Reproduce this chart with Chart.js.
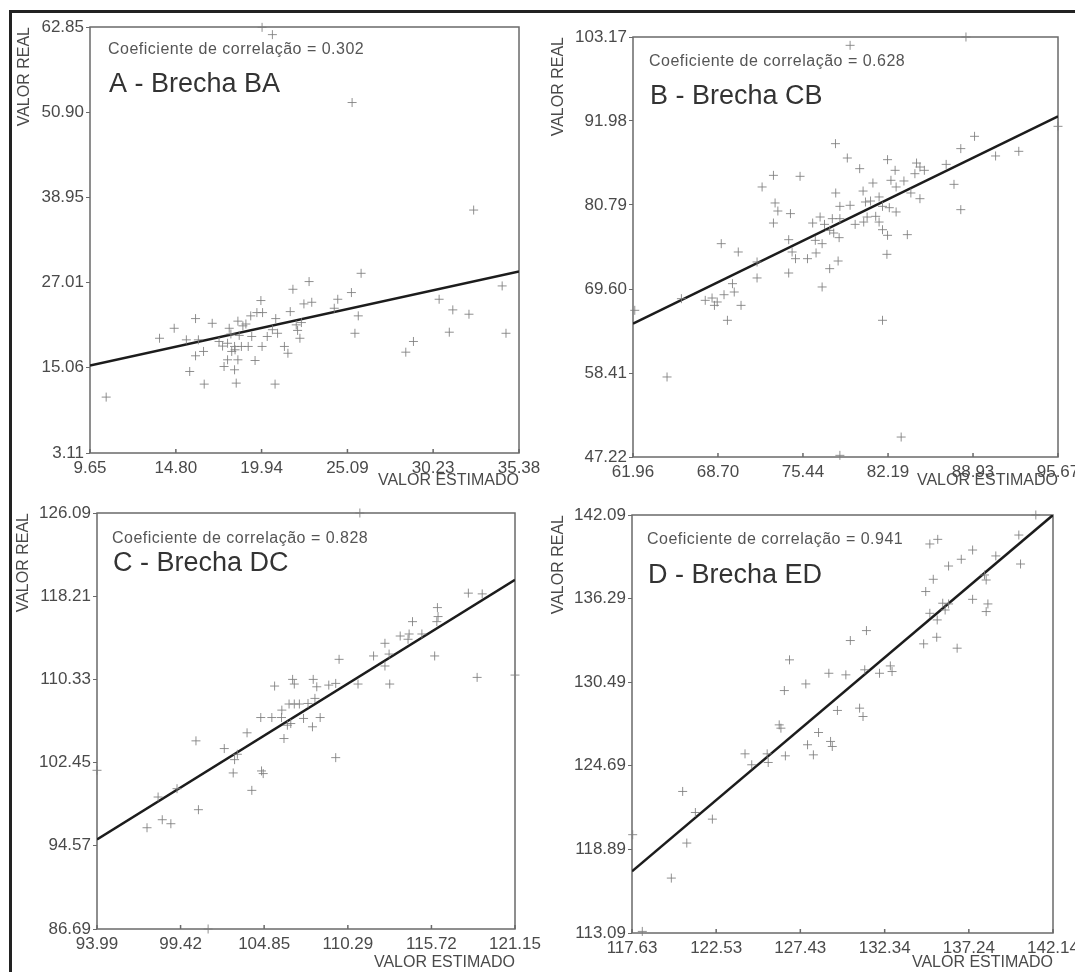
<!DOCTYPE html>
<html>
<head>
<meta charset="utf-8">
<script src="https://cdn.jsdelivr.net/npm/chart.js@4.4.1/dist/chart.umd.min.js"></script>
<style>
    body { margin: 0; background: #fff; width: 1075px; height: 972px; position: relative; overflow: hidden; }
    #frame { position: absolute; left: 9px; top: 10px; right: -10px; bottom: -10px; border-top: 3px solid #222; border-left: 3px solid #222; }
    canvas { position: absolute; }
</style>
</head>
<body>
<div id="frame"></div>
<canvas id="chartA" width="560" height="490" style="left:0;top:0"></canvas>
<canvas id="chartB" width="535" height="490" style="left:540px;top:0"></canvas>
<canvas id="chartC" width="560" height="492" style="left:0;top:480px"></canvas>
<canvas id="chartD" width="535" height="492" style="left:540px;top:480px"></canvas>
<script>
// Tick values of each panel
const aXTicks = [9.65, 14.80, 19.94, 25.09, 30.23, 35.38];
const aYTicks = [3.11, 15.06, 27.01, 38.95, 50.90, 62.85];
const bXTicks = [61.96, 68.70, 75.44, 82.19, 88.93, 95.67];
const bYTicks = [47.22, 58.41, 69.60, 80.79, 91.98, 103.17];
const cXTicks = [93.99, 99.42, 104.85, 110.29, 115.72, 121.15];
const cYTicks = [86.69, 94.57, 102.45, 110.33, 118.21, 126.09];
const dXTicks = [117.63, 122.53, 127.43, 132.34, 137.24, 142.14];
const dYTicks = [113.09, 118.89, 124.69, 130.49, 136.29, 142.09];

// Regression line: real value at the left and right end of the x axis
const aLine = [15.38, 28.55];
const bLine = [64.98, 92.60];
const cLine = [95.17, 119.76];
const dLine = [117.37, 142.09];

const correlations = ['0.302', '0.628', '0.828', '0.941'];
const panelTitles = ['A - Brecha BA', 'B - Brecha CB', 'C - Brecha DC', 'D - Brecha ED'];

// A - Brecha BA (valor estimado / valor real)
const aEstimado = [19.97, 20.59, 25.37, 32.66, 25.91, 22.79, 25.33, 21.82, 34.37, 24.51, 30.59, 19.90, 22.48, 22.95, 24.30,
    31.41, 32.38, 21.66, 19.66, 20.00, 25.74, 19.29, 20.79, 15.98, 18.52, 16.98, 14.70, 18.00, 18.82, 22.02, 22.33,
    20.59, 20.90, 31.20, 25.54, 34.60, 22.10, 20.28, 19.35, 13.82, 15.43, 16.15, 17.39, 17.90, 18.32, 18.73, 19.14,
    19.97, 22.24, 29.05, 21.31, 16.46, 15.98, 18.15, 28.59, 21.52, 17.90, 18.52, 19.55, 17.69, 18.32, 15.63, 16.50,
    18.42, 20.75, 10.62, 18.35, 18.60, 17.60, 19.00, 18.10];
const aReal = [62.80, 61.78, 52.26, 37.18, 28.31, 27.15, 25.61, 26.07, 26.54, 24.67, 24.67, 24.49, 24.02, 24.25, 23.41,
    23.18, 22.57, 22.94, 22.80, 22.80, 22.34, 22.34, 21.96, 21.96, 21.60, 21.30, 20.60, 20.60, 20.94, 21.08, 21.40,
    20.40, 19.90, 20.05, 19.90, 19.90, 20.30, 19.45, 19.45, 19.20, 18.98, 18.98, 18.75, 18.50, 18.05, 18.05, 18.05,
    18.05, 19.20, 18.75, 18.05, 17.35, 16.74, 17.35, 17.25, 17.10, 16.18, 16.18, 16.08, 15.24, 14.78, 14.54, 12.77,
    12.91, 12.77, 10.95, 17.58, 19.60, 18.10, 21.20, 19.80];

// B - Brecha CB
const bEstimado = [79.18, 88.37, 95.67, 89.05, 87.96, 90.72, 92.56, 78.02, 78.96, 82.15, 79.94, 82.75, 84.45, 84.72, 85.07,
    86.80, 73.10, 75.21, 72.20, 84.32, 82.42, 83.45, 82.83, 80.99, 87.42, 84.00, 78.04, 80.21, 81.48, 84.72, 80.40,
    80.80, 73.23, 79.18, 78.37, 81.75, 82.29, 87.96, 73.45, 74.45, 82.83, 76.80, 77.77, 78.37, 80.53, 81.21, 73.10,
    76.21, 77.15, 79.58, 80.26, 81.48, 77.56, 77.88, 81.75, 82.15, 83.72, 78.31, 74.31, 68.96, 76.42, 76.96, 70.31,
    74.58, 76.48, 74.85, 75.80, 78.23, 82.10, 71.80, 77.56, 74.31, 71.80, 69.85, 76.96, 69.99, 69.18, 68.23, 67.69,
    68.64, 68.42, 70.53, 65.80, 69.45, 81.75, 62.10, 64.66, 83.23, 78.37];
const bReal = [102.06, 103.17, 91.27, 89.94, 88.30, 87.32, 87.94, 88.96, 87.05, 86.83, 85.63, 85.41, 86.38, 85.85, 85.41,
    86.20, 84.74, 84.61, 83.19, 84.96, 84.08, 83.99, 83.19, 83.72, 83.54, 82.39, 82.39, 82.65, 81.86, 81.63, 81.19,
    81.32, 81.06, 80.75, 80.61, 80.61, 80.43, 80.17, 79.99, 79.64, 79.86, 79.19, 78.97, 78.97, 79.19, 79.28, 78.39,
    78.39, 78.21, 78.21, 78.52, 78.52, 77.41, 77.06, 77.50, 76.75, 76.84, 76.44, 76.17, 75.64, 76.08, 75.64, 74.53,
    74.53, 74.40, 73.64, 73.64, 73.33, 74.22, 73.20, 72.31, 71.73, 71.07, 70.31, 69.87, 69.20, 68.84, 68.40, 68.09,
    67.87, 67.42, 67.42, 68.31, 65.43, 65.43, 66.76, 57.88, 49.88, 47.44];

// C - Brecha DC
const cEstimado = [111.07, 118.12, 119.02, 116.11, 116.15, 116.07, 114.49, 113.69, 114.27, 115.10, 114.20, 112.70, 111.96,
    112.97, 115.93, 109.72, 112.70, 118.69, 121.15, 106.70, 108.04, 106.81, 105.53, 108.27, 109.05, 109.50, 110.95,
    113.01, 108.15, 106.47, 106.81, 107.14, 107.70, 106.00, 104.63, 105.35, 105.98, 107.41, 108.49, 106.36, 106.58,
    107.99, 103.74, 106.14, 100.42, 102.26, 103.11, 102.93, 109.50, 102.84, 104.68, 104.79, 104.05, 99.19, 97.96,
    100.58, 98.23, 98.79, 97.24, 101.21, 93.99];
const cReal = [126.09, 118.50, 118.43, 117.13, 116.28, 115.80, 115.80, 114.44, 114.63, 114.63, 114.13, 113.75, 112.55,
    112.73, 112.55, 112.23, 111.60, 110.52, 110.74, 110.33, 110.33, 109.89, 109.70, 109.63, 109.79, 109.95, 109.89,
    109.89, 108.53, 108.00, 108.00, 108.00, 108.05, 107.42, 106.72, 106.72, 106.72, 106.63, 106.72, 105.99, 106.15,
    105.84, 105.27, 104.73, 104.51, 103.78, 103.24, 102.73, 102.92, 101.47, 101.66, 101.41, 99.82, 99.98, 99.19,
    97.99, 97.04, 96.66, 96.28, 86.69, 101.72];

// D - Brecha ED
const dEstimado = [141.14, 140.15, 134.97, 135.43, 137.46, 136.80, 138.81, 136.06, 140.25, 138.15, 138.25, 135.17, 134.73,
    137.46, 135.72, 136.06, 138.35, 135.86, 134.97, 138.25, 135.40, 135.37, 134.61, 136.56, 131.28, 130.34, 126.80,
    132.67, 132.77, 131.18, 129.09, 130.08, 132.04, 127.75, 126.50, 130.88, 129.59, 131.08, 126.20, 126.30, 128.49,
    129.19, 129.29, 127.85, 124.21, 128.19, 126.56, 125.50, 125.56, 124.60, 120.58, 121.32, 122.31, 120.82, 117.67,
    119.92, 118.23];
const dReal = [142.09, 140.70, 140.08, 140.40, 139.66, 139.02, 139.25, 138.55, 138.69, 137.93, 137.58, 137.63, 136.78,
    136.24, 135.97, 135.92, 135.92, 135.50, 135.27, 135.39, 134.81, 133.61, 133.15, 132.85, 134.07, 133.38, 132.04,
    131.62, 131.23, 131.35, 131.11, 131.00, 131.11, 130.37, 129.91, 128.69, 128.53, 128.11, 127.53, 127.30, 127.00,
    126.38, 126.03, 126.15, 125.52, 125.45, 125.38, 125.52, 124.92, 124.76, 122.91, 121.45, 120.99, 119.33, 119.91,
    116.90, 113.20];

const FONT = '"Liberation Sans", Arial, sans-serif';
const TEXT = '#4a4a4a';

// draws the closed plot box, the small inner x ticks and the two labels inside the plot
const panelPlugin = {
    id: 'panel',
    beforeDatasetsDraw(chart, args, opts) {
        const ctx = chart.ctx;
        const a = chart.chartArea;
        const xs = chart.scales.x;
        ctx.save();
        ctx.strokeStyle = '#6a6a6a';
        ctx.lineWidth = 1.5;
        ctx.strokeRect(a.left, a.top, a.right - a.left, a.bottom - a.top);
        ctx.beginPath();
        xs.ticks.forEach(t => {
            const px = xs.getPixelForValue(t.value);
            ctx.moveTo(px, a.bottom);
            ctx.lineTo(px, a.bottom - 4);
        });
        ctx.stroke();
        ctx.restore();
    },
    afterDraw(chart, args, opts) {
        const ctx = chart.ctx;
        const a = chart.chartArea;
        ctx.save();
        ctx.textBaseline = 'middle';
        ctx.textAlign = 'left';
        ctx.fillStyle = '#555';
        ctx.font = '16px ' + FONT;
        ctx.letterSpacing = '0.5px';
        ctx.fillText('Coeficiente de correlação = ' + opts.coef, a.left + opts.coefDx, opts.coefY);
        ctx.letterSpacing = '0px';
        ctx.fillStyle = '#333';
        ctx.font = '27px ' + FONT;
        ctx.fillText(opts.title, a.left + opts.titleDx, opts.titleY);
        ctx.restore();
    }
};

function makePanel(id, xTicks, yTicks, estimado, real, line, idx, box, text) {
    const points = estimado.map((x, i) => ({ x: x, y: real[i] }));
    const xMin = xTicks[0], xMax = xTicks[xTicks.length - 1];
    const canvas = document.getElementById(id);
    new Chart(canvas, {
        type: 'scatter',
        data: {
            datasets: [
                {
                    data: points,
                    pointStyle: 'cross',
                    radius: 4.5,
                    borderWidth: 1,
                    borderColor: 'rgba(125, 125, 125, 0.85)',
                    clip: false
                },
                {
                    type: 'line',
                    data: [{ x: xMin, y: line[0] }, { x: xMax, y: line[1] }],
                    borderColor: '#1c1c1c',
                    borderWidth: 2.5,
                    pointRadius: 0,
                    fill: false
                }
            ]
        },
        options: {
            responsive: false,
            animation: false,
            layout: { padding: { top: box.top, right: canvas.width - box.right, left: 0, bottom: 0 } },
            plugins: {
                legend: { display: false },
                tooltip: { enabled: false },
                panel: {
                    coef: correlations[idx], title: panelTitles[idx],
                    coefDx: text.dx, coefY: text.coefY, titleDx: text.dx + 1, titleY: text.titleY
                }
            },
            scales: {
                x: {
                    type: 'linear',
                    min: xMin,
                    max: xMax,
                    afterBuildTicks: s => { s.ticks = xTicks.map(v => ({ value: v })); },
                    afterFit: s => { s.height = canvas.height - box.bottom; s.paddingLeft = 0; s.paddingRight = 0; },
                    grid: { drawOnChartArea: false, drawTicks: false },
                    border: { display: false },
                    ticks: {
                        autoSkip: false, maxRotation: 0, padding: 5, color: TEXT,
                        font: { family: FONT, size: 17 },
                        callback: v => v.toFixed(2)
                    },
                    title: {
                        display: true, text: 'VALOR ESTIMADO', align: 'end', color: TEXT,
                        font: { family: FONT, size: 16 }, padding: { top: 0, bottom: text.xTitlePad }
                    }
                },
                y: {
                    type: 'linear',
                    min: yTicks[0],
                    max: yTicks[yTicks.length - 1],
                    afterBuildTicks: s => { s.ticks = yTicks.map(v => ({ value: v })); },
                    afterFit: s => { s.width = box.left; s.paddingTop = 0; s.paddingBottom = 0; },
                    grid: { drawOnChartArea: false, drawTicks: true, tickLength: 4, color: '#6a6a6a' },
                    border: { display: false },
                    ticks: {
                        autoSkip: false, padding: 2, color: TEXT,
                        font: { family: FONT, size: 17 },
                        callback: v => v.toFixed(2)
                    },
                    title: {
                        display: true, text: 'VALOR REAL', align: 'end', color: TEXT,
                        font: { family: FONT, size: 16 }, padding: { top: text.yTitlePad, bottom: 0 }
                    }
                }
            }
        },
        plugins: [panelPlugin]
    });
}

document.addEventListener('DOMContentLoaded', function() {
    makePanel('chartA', aXTicks, aYTicks, aEstimado, aReal, aLine, 0,
        { left: 90, right: 519, top: 27, bottom: 453 },
        { dx: 18, coefY: 50, titleY: 85, yTitlePad: 15, xTitlePad: 0 });
    makePanel('chartB', bXTicks, bYTicks, bEstimado, bReal, bLine, 1,
        { left: 93, right: 518, top: 37, bottom: 457 },
        { dx: 16, coefY: 62, titleY: 97, yTitlePad: 9, xTitlePad: 0 });
    makePanel('chartC', cXTicks, cYTicks, cEstimado, cReal, cLine, 2,
        { left: 97, right: 515, top: 33, bottom: 449 },
        { dx: 15, coefY: 59, titleY: 84, yTitlePad: 14, xTitlePad: 0 });
    makePanel('chartD', dXTicks, dYTicks, dEstimado, dReal, dLine, 3,
        { left: 92, right: 513, top: 35, bottom: 453 },
        { dx: 15, coefY: 60, titleY: 96, yTitlePad: 9, xTitlePad: 0 });
});
</script>
</body>
</html>
